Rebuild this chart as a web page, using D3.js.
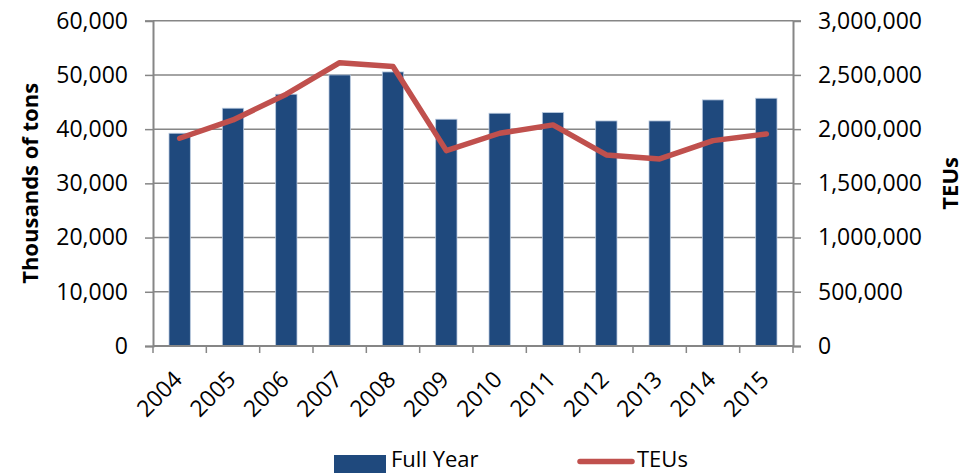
<!DOCTYPE html>
<html><head><meta charset="utf-8">
<script src="https://cdn.jsdelivr.net/npm/d3@7"></script>
<style>body{margin:0;background:#fff}svg{display:block}text{font-family:"Open Sans",sans-serif}</style>
</head><body><svg id="c" width="977" height="473"></svg>
<script>
const years = ["2004","2005","2006","2007","2008","2009","2010","2011","2012","2013","2014","2015"];
const fullYear = [39240,43860,46440,50000,50550,41830,42930,43050,41510,41510,45390,45700];
const teus = [1916000,2085000,2322000,2613000,2577000,1802000,1962000,2039000,1762000,1725000,1894000,1956000];
const leftTicks = [0,10000,20000,30000,40000,50000,60000];
const rightTicks = [0,500000,1000000,1500000,2000000,2500000,3000000];

const svg = d3.select("#c");
const L = 153, R = 793, T = 20.7, B = 346;
const x = d3.scaleBand().domain(years).range([L,R]).paddingInner(0.6).paddingOuter(0.3);
const xc = d3.scalePoint().domain(years).range([L,R]).padding(0.5);
const y = d3.scaleLinear().domain([0,60000]).range([B,T]);
const y2 = d3.scaleLinear().domain([0,3000000]).range([B,T]);
const fmt = d3.format(",");
const grey = "#868686";

// gridlines
svg.append("g").selectAll("line").data(leftTicks.filter(d=>d>0)).join("line")
  .attr("x1",L).attr("x2",R).attr("y1",d=>y(d)).attr("y2",d=>y(d))
  .attr("stroke",grey).attr("stroke-width",1.5);

// left axis
const gl = svg.append("g").attr("transform",`translate(${L},0)`)
  .call(d3.axisLeft(y).tickValues(leftTicks).tickFormat(fmt).tickSize(8).tickPadding(17));
gl.select(".domain").attr("stroke",grey).attr("stroke-width",2);
gl.selectAll(".tick line").attr("stroke",grey).attr("stroke-width",1.5);
gl.selectAll("text").attr("font-size",23).attr("fill","#000").attr("font-family","Open Sans");

// right axis
const gr = svg.append("g").attr("transform",`translate(${R},0)`)
  .call(d3.axisRight(y2).tickValues(rightTicks).tickFormat(fmt).tickSize(8).tickPadding(17));
gr.select(".domain").attr("stroke",grey).attr("stroke-width",2);
gr.selectAll(".tick line").attr("stroke",grey).attr("stroke-width",1.5);
gr.selectAll("text").attr("font-size",23).attr("fill","#000").attr("font-family","Open Sans");

// bars
svg.append("g").selectAll("rect").data(years).join("rect")
  .attr("x",d=>x(d)).attr("width",x.bandwidth())
  .attr("y",(d,i)=>y(fullYear[i])).attr("height",(d,i)=>B-y(fullYear[i]))
  .attr("fill","#1F497D").attr("stroke","#b9c9de").attr("stroke-width",0.8);

// bottom axis
const step = (R-L)/years.length;
const gb = svg.append("g");
gb.append("line").attr("x1",L).attr("x2",R).attr("y1",B).attr("y2",B).attr("stroke",grey).attr("stroke-width",2);
gb.selectAll("line.t").data(d3.range(years.length+1)).join("line").attr("class","t")
  .attr("x1",i=>L+i*step).attr("x2",i=>L+i*step).attr("y1",B).attr("y2",B+7)
  .attr("stroke",grey).attr("stroke-width",1.5);
gb.selectAll("text").data(years).join("text")
  .attr("transform",d=>`translate(${xc(d)+4},${B+35}) rotate(-45)`)
  .attr("text-anchor","end").attr("font-size",23).text(d=>d);

// line
svg.append("path").datum(teus)
  .attr("d",d3.line().x((d,i)=>xc(years[i])).y(d=>y2(d)))
  .attr("fill","none").attr("stroke","#C0504D").attr("stroke-width",5.5)
  .attr("stroke-linecap","round").attr("stroke-linejoin","round");

// axis titles
svg.append("text").attr("transform",`translate(38,${(T+B)/2}) rotate(-90)`)
  .attr("text-anchor","middle").attr("font-size",22).attr("font-weight","bold").text("Thousands of tons");
svg.append("text").attr("transform",`translate(958,${(T+B)/2}) rotate(-90)`)
  .attr("text-anchor","middle").attr("font-size",22).attr("font-weight","bold").text("TEUs");

// legend
const lg = svg.append("g");
lg.append("rect").attr("x",334).attr("y",455).attr("width",52).attr("height",20).attr("fill","#1F497D");
lg.append("text").attr("x",391).attr("y",467).attr("font-size",22).text("Full Year");
lg.append("line").attr("x1",580).attr("x2",632).attr("y1",461.5).attr("y2",461.5)
  .attr("stroke","#C0504D").attr("stroke-width",5.5).attr("stroke-linecap","round");
lg.append("text").attr("x",637).attr("y",467).attr("font-size",22).text("TEUs");
</script></body></html>
